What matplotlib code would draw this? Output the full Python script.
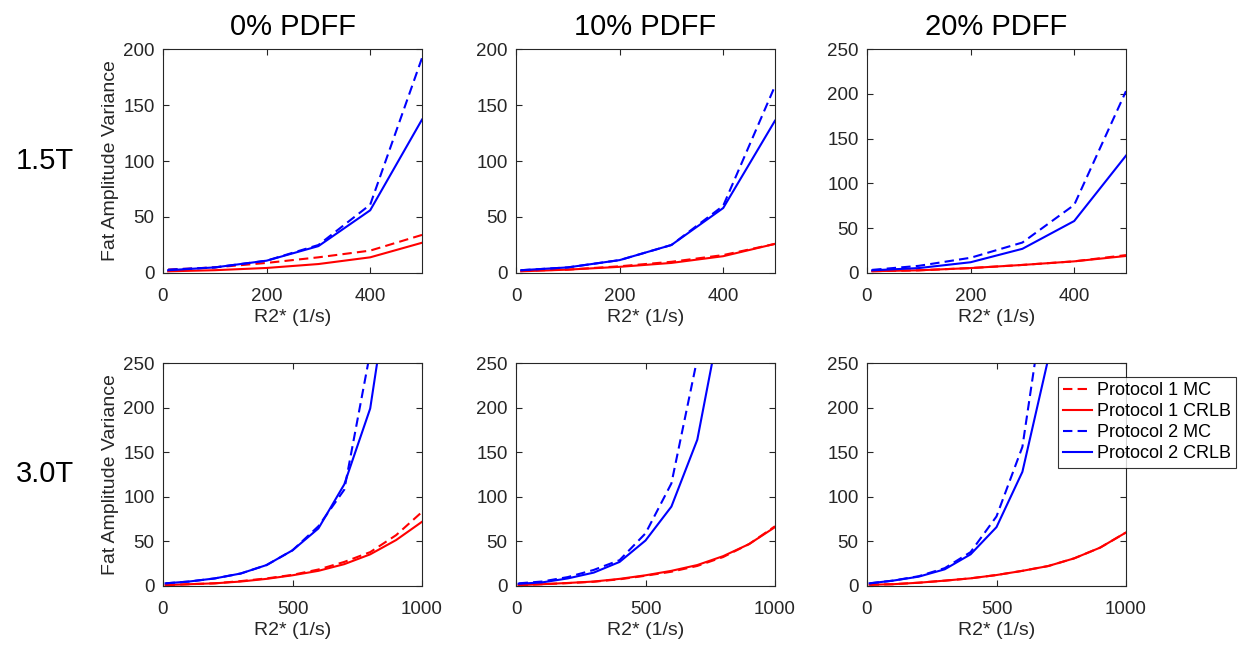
import matplotlib
matplotlib.use('Agg')
import matplotlib.pyplot as plt
import numpy as np

plt.rcParams['font.family'] = ['Liberation Sans', 'DejaVu Sans']

# R2* sample points
r2_15 = [10, 100, 200, 300, 400, 500]
r2_30 = [10, 100, 200, 300, 400, 500, 600, 700, 800, 900, 1000]

# 1.5T, 0 / 10 / 20 % PDFF
t15_p1_mc = [[3, 5, 9, 14, 20, 34],
             [2, 3, 6, 10, 16, 26],
             [2, 3, 5.5, 9, 13, 20]]
t15_p1_crlb = [[1.5, 2.5, 4.5, 8, 14, 27],
               [1.5, 3, 5.5, 9, 15, 26],
               [2, 3, 5.5, 9, 13, 19]]
t15_p2_mc = [[3, 5, 11, 25, 61, 192],
             [2.5, 5, 11.5, 25, 60, 167],
             [3.5, 8, 17, 34, 76, 203]]
t15_p2_crlb = [[2.5, 5, 11, 24, 56, 137],
               [2.5, 5, 11.5, 25, 58, 136],
               [3, 5.5, 12, 27, 58, 131]]

# 3.0T, 0 / 10 / 20 % PDFF
t30_p1_mc = [[1, 2, 3, 5.5, 8.5, 12.5, 18.5, 27, 38, 57, 83],
             [1, 2, 3.2, 4.8, 7.5, 11.5, 16, 22.5, 32.5, 47, 67],
             [1.4, 2, 3.7, 6, 8.6, 12.3, 17, 22.4, 31, 43, 60]]
t30_p1_crlb = [[1, 2, 3, 5, 8, 12, 17, 24.5, 35.5, 51.5, 72],
               [1, 2, 3.4, 5, 8, 12, 17, 23.5, 33.5, 47, 66],
               [1.4, 2, 3.7, 6, 8.6, 12.3, 17, 22.4, 31, 43, 60]]
t30_p2_mc = [[3, 5, 8.5, 14, 23.5, 40, 67, 108, 262, 500, 900],
             [3, 5, 10, 18, 29, 59, 115, 255, 500, 900, 1500],
             [3, 6, 11, 20, 38, 78, 156, 352, 700, 1300, 2500]]
t30_p2_crlb = [[3, 5, 8.5, 14, 23.5, 40, 64.5, 114, 199, 390, 700],
               [2.5, 4, 8.5, 15, 27, 51, 89, 164, 315, 600, 1100],
               [3, 6, 10.5, 18.7, 35.5, 66, 128, 255, 500, 950, 1800]]

col_titles = ['0% PDFF', '10% PDFF', '20% PDFF']
row_labels = ['1.5T', '3.0T']
legend_labels = ['Protocol 1 MC', 'Protocol 1 CRLB', 'Protocol 2 MC', 'Protocol 2 CRLB']

top_ylims = [200, 200, 250]
top_yticks = [[0, 50, 100, 150, 200], [0, 50, 100, 150, 200], [0, 50, 100, 150, 200, 250]]

W, H = 1254, 660
fig = plt.figure(figsize=(W / 100, H / 100), dpi=100)

lefts = [163, 516, 867]
ax_w = 259
rows_px = [(49, 273), (363, 586)]
gray = '#262626'
dash = (4.5, 2.5)


def style(ax):
    ax.tick_params(direction='in', top=True, right=True, length=4, width=0.8,
                   labelsize=13.5, colors=gray, pad=6)
    ax.tick_params(axis='x', pad=11)
    for s in ax.spines.values():
        s.set_color(gray)
        s.set_linewidth(0.8)


axes = []
for r, (ytop, ybot) in enumerate(rows_px):
    for c in range(3):
        ax = fig.add_axes([lefts[c] / W, 1 - ybot / H, ax_w / W, (ybot - ytop) / H])
        if r == 0:
            x = r2_15
            series = [t15_p1_mc[c], t15_p1_crlb[c], t15_p2_mc[c], t15_p2_crlb[c]]
            ax.set_xlim(0, 500)
            ax.set_xticks([0, 200, 400])
            ax.set_ylim(0, top_ylims[c])
            ax.set_yticks(top_yticks[c])
            ax.set_title(col_titles[c], fontsize=21, pad=10)
        else:
            x = r2_30
            series = [t30_p1_mc[c], t30_p1_crlb[c], t30_p2_mc[c], t30_p2_crlb[c]]
            ax.set_xlim(0, 1000)
            ax.set_xticks([0, 500, 1000])
            ax.set_ylim(0, 250)
            ax.set_yticks([0, 50, 100, 150, 200, 250])
        lines = []
        for k, y in enumerate(series):
            color = 'red' if k < 2 else 'blue'
            ln, = ax.plot(x, y, color=color, lw=1.5)
            if k % 2 == 0:
                ln.set_dashes(dash)
            lines.append(ln)
        ax.set_xlabel('R2* (1/s)', fontsize=14, color=gray, labelpad=3)
        if c == 0:
            ax.set_ylabel('Fat Amplitude Variance', fontsize=14, color=gray, labelpad=3)
        style(ax)
        axes.append(ax)

for r, (ytop, ybot) in enumerate(rows_px):
    fig.text(45 / W, 1 - (ytop + ybot) / 2 / H, row_labels[r], fontsize=21,
             ha='center', va='center')

leg = fig.legend(lines, legend_labels, loc='upper left',
                 bbox_to_anchor=(1058 / W, 1 - 377 / H), borderaxespad=0,
                 fontsize=13, frameon=True, fancybox=False, handlelength=1.6,
                 handletextpad=0.25, borderpad=0.3, labelspacing=0.22)
leg.get_frame().set_edgecolor('black')
leg.get_frame().set_linewidth(0.8)

fig.savefig('out.png', dpi=100)
